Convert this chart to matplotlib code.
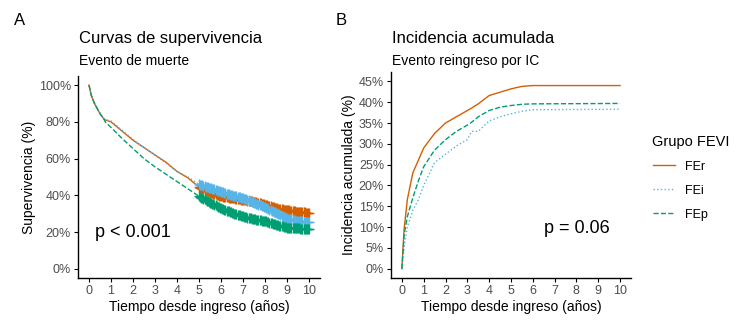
import numpy as np
import matplotlib
matplotlib.use("Agg")
import matplotlib.pyplot as plt
from matplotlib.lines import Line2D

plt.rcParams['font.family'] = ['Liberation Sans', 'DejaVu Sans']

groups = ["FEr", "FEi", "FEp"]
colors = {"FEr": "#D55E00", "FEi": "#56B4E9", "FEp": "#009E73"}
styles = {"FEr": "-", "FEi": ":", "FEp": "--"}

# panel A - survival (%)
t_surv = [0, 0.1, 0.25, 0.5, 0.65, 0.75, 1, 1.5, 2, 2.5, 3, 3.5, 4, 4.5, 5,
          5.5, 6, 6.5, 7, 7.5, 8, 8.5, 9, 9.5, 10]
surv_fer = [100, 94.5, 90, 84.5, 82, 81, 80, 75, 70, 66, 62, 58, 53, 49.5, 44.5,
            41.5, 39.5, 38.5, 37.5, 36.5, 35, 33, 32, 31, 30.5]
surv_fei = [100, 94.5, 90, 84.5, 82, 81.2, 80.5, 75.5, 70.5, 66, 62, 57.5, 53, 50, 46,
            44, 42, 40, 38.5, 36, 33.5, 30.5, 27.5, 26, 25.5]
surv_fep = [100, 94.5, 90, 84.5, 82, 79.8, 77, 71, 65.5, 60, 55.5, 51.5, 47.5, 43.5, 39.5,
            36, 33, 30.5, 28.5, 27, 26, 24, 22.5, 22, 21.7]
# censoring times (years)
censor_t = [5.0, 5.05, 5.1, 5.15, 5.2, 5.25, 5.3, 5.35, 5.4, 5.45, 5.5, 5.55, 5.6, 5.65,
            5.7, 5.75, 5.8, 5.85, 5.9, 5.95, 6.0, 6.05, 6.1, 6.15, 6.2, 6.25, 6.3, 6.35,
            6.4, 6.45, 6.5, 6.55, 6.6, 6.65, 6.7, 6.75, 6.8, 6.85, 6.9, 6.95, 7.0, 7.05,
            7.1, 7.15, 7.2, 7.25, 7.3, 7.35, 7.4, 7.45, 7.5, 7.55, 7.6, 7.65, 7.7, 7.75,
            7.8, 7.85, 7.9, 7.95, 8.0, 8.05, 8.1, 8.15, 8.2, 8.25, 8.3, 8.35, 8.4, 8.45,
            8.5, 8.55, 8.6, 8.65, 8.7, 8.75, 8.8, 8.85, 8.9, 8.95, 9.0, 9.05, 9.1, 9.15,
            9.2, 9.25, 9.3, 9.35, 9.4, 9.45, 9.5, 9.55, 9.6, 9.65, 9.7, 9.75, 9.8, 9.85,
            9.9, 9.95, 10.0]

# panel B - cumulative incidence (%)
t_inc = [0, 0.1, 0.25, 0.5, 0.75, 1, 1.5, 2, 2.5, 3, 3.2, 3.5, 4, 4.5, 5, 5.5, 6, 10]
inc_fer = [0, 9.4, 16.6, 23, 26, 29, 32.5, 35, 36.5, 38, 38.6, 39.6, 41.6, 42.4, 43.2, 43.8, 44, 44]
inc_fei = [0, 5, 10, 14, 16.5, 20, 25.5, 27.5, 29.5, 31, 33, 33, 35.5, 36.5, 37.2, 37.8, 38.2, 38.3]
inc_fep = [0, 8, 12.5, 17, 21, 24.5, 28.5, 31, 33, 34.5, 35.2, 36.5, 38, 38.8, 39.2, 39.5, 39.6, 39.7]

surv = {"FEr": surv_fer, "FEi": surv_fei, "FEp": surv_fep}
inc = {"FEr": inc_fer, "FEi": inc_fei, "FEp": inc_fep}

tick_col = "#4D4D4D"


def style_ax(ax):
    for s in ["top", "right"]:
        ax.spines[s].set_visible(False)
    for s in ["left", "bottom"]:
        ax.spines[s].set_linewidth(1.0)
    ax.tick_params(length=3, width=0.8, labelsize=9, labelcolor=tick_col, pad=2)
    ax.set_xlim(-0.5, 10.5)
    ax.set_xticks(range(0, 11))
    ax.set_xlabel("Tiempo desde ingreso (años)", fontsize=10, labelpad=2)


fig = plt.figure(figsize=(7.5, 3.28), dpi=100)

# A
ax1 = fig.add_axes([0.104, 0.1524, 0.3227, 0.616])
style_ax(ax1)
for g in groups:
    ax1.plot(t_surv, surv[g], color=colors[g], ls=styles[g], lw=1.0)
    cy = np.interp(censor_t, t_surv, surv[g])
    ax1.plot(censor_t, cy, ls="none", marker="+", ms=6.5, mew=1.0, color=colors[g])
ax1.set_ylim(-5, 105)
ax1.set_yticks(range(0, 101, 20))
ax1.set_yticklabels([f"{v}%" for v in range(0, 101, 20)])
ax1.set_ylabel("Supervivencia (%)", fontsize=10, labelpad=2)
ax1.text(0.27, 19.6, "p < 0.001", fontsize=13, ha="left", va="center")
fig.text(0.1053, 0.884, "Curvas de supervivencia", fontsize=12, ha="left", va="center")
fig.text(0.1053, 0.814, "Evento de muerte", fontsize=10, ha="left", va="center")
fig.text(0.018, 0.939, "A", fontsize=12, ha="left", va="center")

# B
ax2 = fig.add_axes([0.5213, 0.1524, 0.32, 0.628])
style_ax(ax2)
for g in groups:
    ax2.plot(t_inc, inc[g], color=colors[g], ls=styles[g], lw=1.0)
ax2.set_ylim(-2.25, 47.25)
ax2.set_yticks(range(0, 46, 5))
ax2.set_yticklabels([f"{v}%" for v in range(0, 46, 5)])
ax2.set_ylabel("Incidencia acumulada (%)", fontsize=10, labelpad=2)
ax2.text(8.0, 9.6, "p = 0.06", fontsize=13, ha="center", va="center")
fig.text(0.5227, 0.884, "Incidencia acumulada", fontsize=12, ha="left", va="center")
fig.text(0.5227, 0.814, "Evento reingreso por IC", fontsize=10, ha="left", va="center")
fig.text(0.448, 0.939, "B", fontsize=12, ha="left", va="center")

handles = [Line2D([0], [0], color=colors[g], ls=styles[g], lw=1.0) for g in groups]
leg = fig.legend(handles, groups, title="Grupo FEVI", loc="center left",
                 bbox_to_anchor=(0.855, 0.458), frameon=False, fontsize=9,
                 title_fontsize=10.5, handlelength=1.8, labelspacing=0.95,
                 handletextpad=0.8)
leg._legend_box.align = "left"

fig.savefig("out.png", dpi=100)
